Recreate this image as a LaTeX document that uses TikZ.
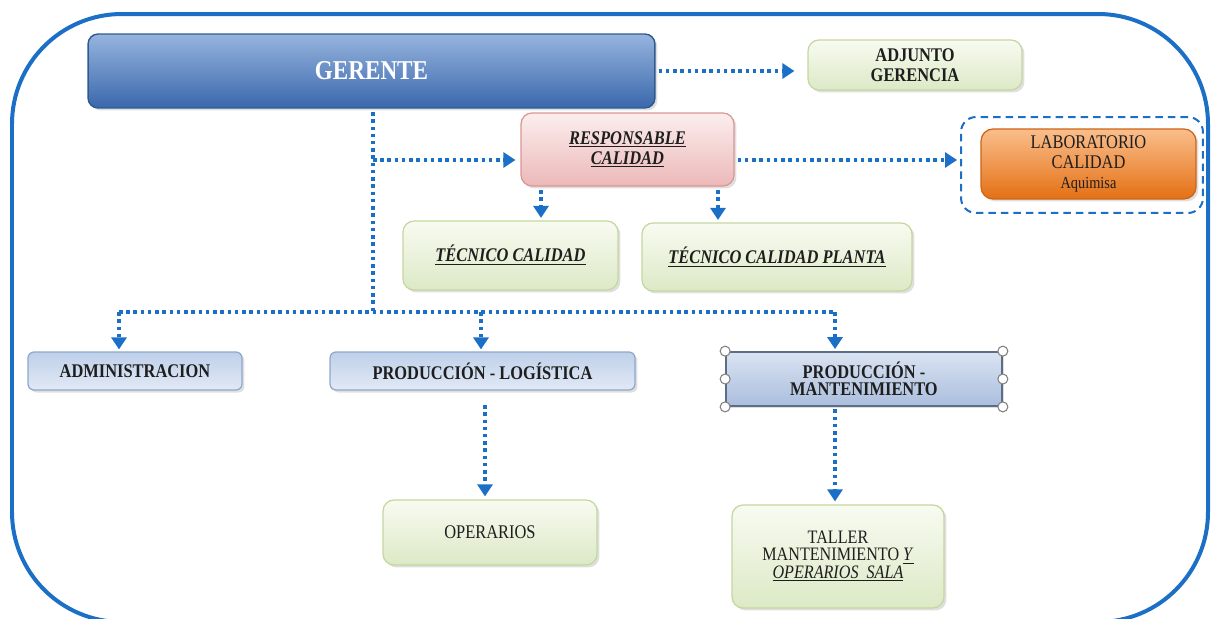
\documentclass[tikz,border=0pt]{standalone}
\usepackage{fontspec}
\setmainfont{Liberation Serif}[FakeStretch=0.85]
\usetikzlibrary{arrows.meta,shadows}
\definecolor{linkblue}{RGB}{28,111,198}
\definecolor{textgray}{RGB}{30,30,30}
\definecolor{greentop}{RGB}{248,251,241}
\definecolor{greenbot}{RGB}{220,233,198}
\definecolor{greenline}{RGB}{196,215,159}
\definecolor{pinktop}{RGB}{252,238,238}
\definecolor{pinkbot}{RGB}{236,184,184}
\definecolor{pinkline}{RGB}{218,150,148}
\definecolor{gertop}{RGB}{150,180,222}
\definecolor{germid}{RGB}{79,129,189}
\definecolor{gerbot}{RGB}{58,104,172}
\definecolor{gerline}{RGB}{47,90,143}
\definecolor{admtop}{RGB}{190,208,234}
\definecolor{admbot}{RGB}{226,233,245}
\definecolor{admline}{RGB}{143,167,203}
\definecolor{orgtop}{RGB}{250,190,140}
\definecolor{orgmid}{RGB}{245,150,70}
\definecolor{orgbot}{RGB}{228,112,20}
\definecolor{orgline}{RGB}{205,100,20}
\definecolor{pmtop}{RGB}{218,227,242}
\definecolor{pmbot}{RGB}{170,190,221}
\definecolor{pmline}{RGB}{92,110,134}
\begin{document}
\begin{tikzpicture}[x=0.02cm, y=-0.02cm,
  box/.style={rounded corners=0.22cm, align=center, text=textgray, inner sep=1pt,
    font=\fontsize{11}{11.6}\selectfont,
    drop shadow={shadow xshift=0.05cm, shadow yshift=-0.05cm, opacity=0.25}},
  greenbox/.style={box, draw=greenline, line width=0.7pt, top color=greentop, bottom color=greenbot},
  pinkbox/.style={box, draw=pinkline, line width=0.7pt, top color=pinktop, bottom color=pinkbot},
  admbox/.style={box, rounded corners=0.12cm, draw=admline, line width=0.7pt, top color=admtop, bottom color=admbot,
    font=\bfseries\fontsize{11}{11.6}\selectfont},
  link/.style={draw=linkblue, line width=0.07cm, dash pattern=on 0.07cm off 0.075cm,
    -{Triangle[length=0.24cm,width=0.3cm]}},
  handle/.style={circle, draw=gray, fill=white, inner sep=0pt, minimum size=0.2cm, line width=0.6pt},
  bi/.style={font=\bfseries\itshape\fontsize{11}{11.4}\selectfont}]
\useasboundingbox (0,0) rectangle (1215,619);
% outer frame
\draw[draw=linkblue, line width=0.08cm, rounded corners=2.2cm] (12,14) rectangle (1208,622);
% boxes
\node[box, rounded corners=0.2cm, draw=gerline, line width=0.8pt, top color=gertop, middle color=germid,
  bottom color=gerbot, text=white, font=\bfseries\fontsize{15.5}{17}\selectfont,
  minimum width=11.34cm, minimum height=1.48cm] (gerente) at (371.5,71) {GERENTE};
\node[greenbox, font=\bfseries\fontsize{11}{11.6}\selectfont, minimum width=4.28cm, minimum height=1cm] (adjunto) at (915,65) {ADJUNTO\\GERENCIA};
\node[pinkbox, bi, minimum width=4.26cm, minimum height=1.46cm] (resp) at (627.5,149.5) {\underline{RESPONSABLE}\\\underline{CALIDAD}};
\node[draw=linkblue, line width=0.04cm, dash pattern=on 0.15cm off 0.1cm, rounded corners=0.3cm,
  minimum width=4.84cm, minimum height=1.92cm] (labframe) at (1082,165) {};
\node[box, rounded corners=0.24cm, draw=orgline, line width=0.7pt, top color=orgtop, middle color=orgmid, bottom color=orgbot,
  font=\fontsize{11}{11.6}\selectfont, minimum width=4.3cm, minimum height=1.4cm] (lab) at (1088.5,164)
  {LABORATORIO\\CALIDAD\\{\fontsize{9.6}{11.6}\selectfont Aquimisa}};
\node[greenbox, bi, minimum width=4.3cm, minimum height=1.38cm] (tec1) at (510.5,255.5) {\underline{TÉCNICO CALIDAD}};
\node[greenbox, bi, minimum width=5.4cm, minimum height=1.36cm] (tec2) at (777,257) {\underline{TÉCNICO CALIDAD PLANTA}};
\node[admbox, minimum width=4.28cm, minimum height=0.76cm] (admin) at (135,371) {ADMINISTRACION};
\node[admbox, minimum width=6.1cm, minimum height=0.76cm] (prodlog) at (482.5,371) {PRODUCCIÓN - LOGÍSTICA};
\node[box, rounded corners=0pt, draw=pmline, line width=1pt, top color=pmtop, bottom color=pmbot,
  font=\bfseries\fontsize{11}{9.8}\selectfont, minimum width=5.52cm, minimum height=1.08cm] (prodmant) at (864,379) {PRODUCCIÓN -\\MANTENIMIENTO};
\node[greenbox, minimum width=4.28cm, minimum height=1.3cm] (operarios) at (490,532.5) {OPERARIOS};
\node[greenbox, font=\fontsize{10.8}{9.8}\selectfont, minimum width=4.24cm, minimum height=2.06cm] (taller) at (838,556.5)
  {TALLER\\MANTENIMIENTO \underline{\textit{Y}}\\\underline{\textit{OPERARIOS~~SALA}}};
% selection handles
\node[handle] (h1) at (prodmant.north west) {};
\node[handle] (h2) at (prodmant.west) {};
\node[handle] (h3) at (prodmant.south west) {};
\node[handle] (h4) at (prodmant.north east) {};
\node[handle] (h5) at (prodmant.east) {};
\node[handle] (h6) at (prodmant.south east) {};
% connectors
\coordinate (gdown) at (373,112);
\coordinate (gmid) at (373,160);
\coordinate (bus) at (373,312);
\coordinate (busa) at (119,312);
\coordinate (busb) at (481,312);
\coordinate (busc) at (835,312);
\coordinate (rdl) at (541,190);
\coordinate (rdr) at (718,190);
\coordinate (pl) at (485,405);
\draw[link, shorten <=0.06cm, shorten >=0.26cm] (gerente.east) -- (adjunto.west |- gerente.east);
\draw[link, -] (gdown) -- (bus);
\draw[link, shorten >=0.1cm] (gmid) -- (resp.west |- gmid);
\draw[link, shorten <=0.06cm, shorten >=0.06cm] (resp.east |- gmid) -- (labframe.west |- gmid);
\draw[link, shorten >=0.05cm] (rdl) -- (tec1.north -| rdl);
\draw[link, shorten >=0.05cm] (rdr) -- (tec2.north -| rdr);
\draw[link, -] (busa) -- (busc);
\draw[link, shorten >=0.04cm] (busa) -- (admin.north -| busa);
\draw[link, shorten >=0.04cm] (busb) -- (prodlog.north -| busb);
\draw[link, shorten >=0.04cm] (busc) -- (prodmant.north -| busc);
\draw[link, shorten >=0.06cm] (pl) -- (operarios.north -| pl);
\draw[link, shorten <=0.05cm, shorten >=0.06cm] (prodmant.south -| busc) -- (taller.north -| busc);
\end{tikzpicture}
\end{document}
